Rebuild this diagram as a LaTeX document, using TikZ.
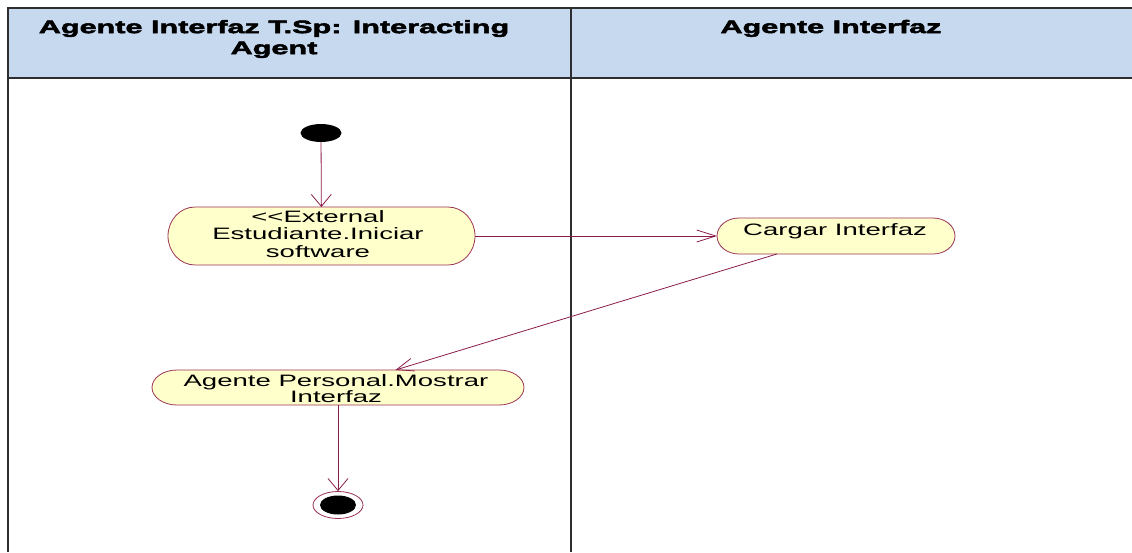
\documentclass[tikz,border=0pt]{standalone}
\usepackage{fontspec}
\usetikzlibrary{shapes.geometric,arrows.meta}
\newfontfamily\headfont[FakeStretch=1.7,FakeBold=3]{Liberation Sans Bold}
\newfontfamily\actfont[FakeStretch=1.67]{Liberation Sans}
\definecolor{headfill}{HTML}{C6D9EF}
\definecolor{actfill}{HTML}{FFFFCC}
\definecolor{actline}{HTML}{993355}
\definecolor{flow}{HTML}{8A1C4A}
\definecolor{laneline}{HTML}{2E2E2E}
\tikzset{
  x=1pt, y=-1pt,
  headtext/.style={font=\headfont\fontsize{18}{21}\selectfont, align=center, inner sep=0pt},
  actbox/.style={rectangle, inner sep=0pt, outer sep=0pt},
  actborder/.style={draw=actline, fill=actfill, line width=0.8pt},
  acttext/.style={font=\actfont\fontsize{16.5}{17.5}\selectfont, align=center, inner sep=0pt},
  flowline/.style={draw=flow, line width=0.8pt},
  vtip/.style={-{Straight Barb[length=12pt,width=20pt,line width=0.8pt]}},
  htip/.style={-{Straight Barb[length=19pt,width=12pt,line width=0.8pt]}},
  dtip/.style={-{Straight Barb[length=17pt,width=13pt,line width=0.8pt]}},
  blackdot/.style={ellipse, fill=black, inner sep=0pt},
}
% activity state: a named box of width #4 and height #5 centred at (#2,#3),
% outlined with straight top/bottom edges and elliptic ends of x radius #6
\newcommand{\activitystate}[6]{%
  \node[actbox, minimum width=#4pt, minimum height=#5pt] (#1) at (#2,#3) {};
  \draw[actborder] ({#2-#4/2+#6},{#3-#5/2}) -- ({#2+#4/2-#6},{#3-#5/2})
    arc[start angle=-90, end angle=90, x radius=#6, y radius=#5/2]
    -- ({#2-#4/2+#6},{#3+#5/2})
    arc[start angle=90, end angle=270, x radius=#6, y radius=#5/2] -- cycle;
}
\begin{document}
\begin{tikzpicture}
\useasboundingbox (0,0) rectangle (1132,552);
% swimlane frame and headers
\fill[headfill] (8,8) rectangle (1132,78);
\draw[laneline, line width=1.2pt] (8,78) -- (1132,78);
\draw[laneline, line width=1.6pt] (8,8) -- (8,552);
\draw[laneline, line width=1.4pt] (571,8) -- (571,552);
\draw[laneline, line width=2.4pt] (7.2,8) -- (1132,8);
\node[headtext] (lane1) at (274,39) {Agente Interfaz T.Sp: Interacting\\Agent};
\node[headtext, anchor=base] (lane2) at (831,33) {Agente Interfaz};

% initial state
\node[blackdot, minimum width=41pt, minimum height=18pt] (start) at (321,133) {};

% activity states
\activitystate{iniciar}{321.5}{236}{307}{58}{27}
\node[acttext] (iniciartxt) at (318,234) {<<External\\Estudiante.Iniciar\\software};

\activitystate{cargar}{836}{236}{238}{36}{22}
\node[acttext, anchor=base] (cargartxt) at (835,235) {Cargar Interfaz};

\activitystate{mostrar}{338}{387.5}{372}{35}{25}
\node[acttext, font=\actfont\fontsize{16.5}{16}\selectfont] (mostrartxt) at (336,389) {Agente Personal.Mostrar\\Interfaz};

% final state
\node[ellipse, draw=actline, line width=0.8pt, fill=white, inner sep=0pt,
      minimum width=50pt, minimum height=27pt] (final) at (338,505) {};
\node[blackdot, minimum width=36pt, minimum height=19pt] (finaldot) at (final.center) {};

% transitions
\draw[flowline, vtip] (start) -- (iniciar);
\draw[flowline, htip] (iniciar) -- (cargar);
\draw[flowline, dtip] (cargar) -- (mostrar);
\draw[flowline, vtip] (mostrar) -- (final);
\end{tikzpicture}
\end{document}
